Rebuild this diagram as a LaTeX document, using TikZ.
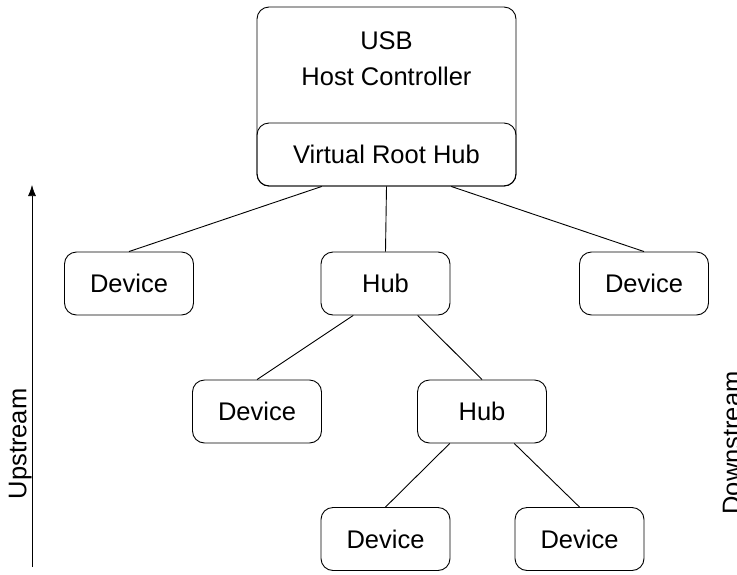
\documentclass[tikz,border=0pt]{standalone}
\usepackage{fontspec}
\setmainfont{Liberation Sans}
\usetikzlibrary{arrows.meta}
\begin{document}
\begin{tikzpicture}[x=1pt,y=-1pt,line width=0.9pt,font=\fontsize{25.5}{36}\selectfont,
box/.style={draw,rounded corners=12pt,minimum width=129pt,minimum height=63pt,inner sep=0pt},
flow/.style={line width=0.7pt,-{Latex[length=11pt,width=8pt]}}]
\useasboundingbox(0,0)rectangle(737,574);
% host controller with its root hub
\node[box,minimum width=259pt,minimum height=179pt](host)at(386.5,96.5){};
\node[align=center](hostlabel)at(386.5,59){USB\\Host Controller};
\node[box,minimum width=259pt](vrh)at(386.5,154.5){Virtual Root Hub};
% tree
\node[box](dev1)at(129,283.5){Device};
\node[box](hub1)at(385.5,283.5){Hub};
\node[box](dev3)at(644,283.5){Device};
\node[box](dev2)at(257,411.5){Device};
\node[box](hub2)at(482,411.5){Hub};
\node[box](dev4)at(385.5,539){Device};
\node[box](dev5)at(579.5,539){Device};
\draw([xshift=-64.75pt]vrh.south)--(dev1.north);
\draw(vrh.south)--(hub1.north);
\draw([xshift=64.75pt]vrh.south)--(dev3.north);
\draw([xshift=-32.25pt]hub1.south)--(dev2.north);
\draw([xshift=32.25pt]hub1.south)--(hub2.north);
\draw([xshift=-32.25pt]hub2.south)--(dev4.north);
\draw([xshift=32.25pt]hub2.south)--(dev5.north);
% direction arrows
\coordinate(up0)at(32,567);
\coordinate(up1)at(32,185);
\draw[flow](up0)--(up1);
\node[rotate=90,anchor=south,inner sep=0pt](uplabel)at(32,444){Upstream};
\coordinate(down0)at(741,185);
\coordinate(down1)at(741,567);
\draw[flow](down0)--(down1);
\node[rotate=90,anchor=south,inner sep=0pt](downlabel)at(741,443){Downstream};
\end{tikzpicture}
\end{document}
